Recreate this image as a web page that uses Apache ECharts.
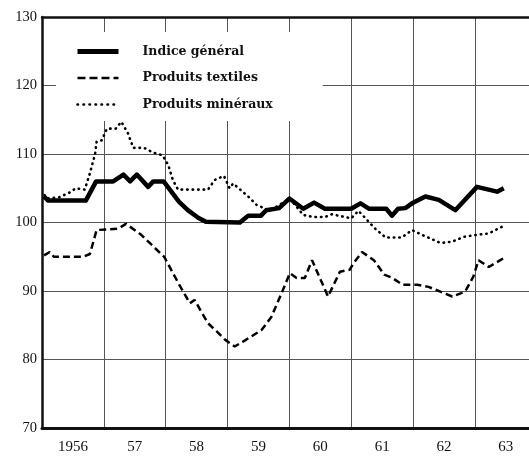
<!DOCTYPE html>
<html>
<head>
<meta charset="utf-8">
<script src="https://cdn.jsdelivr.net/npm/echarts@6/dist/echarts.min.js"></script>
<style>
  html, body { margin: 0; padding: 0; background: #fff; }
  #chart { width: 529px; height: 462px; }
</style>
</head>
<body>
<div id="chart"></div>
<script>
// Monthly positions are counted from January 1956 (0 = start of 1956).
const yearLabels = ['1956', '57', '58', '59', '60', '61', '62', '63'];

const generalMonths = [0.4, 1.2, 8.5, 10.5, 13.8, 15.8, 17.1, 18.4, 20.6, 21.6, 23.6, 26.6, 28.3, 30.3, 31.8, 38.4, 40, 42.5, 43.5, 46, 48, 50.7, 52.8, 54.9, 60, 61.8, 63.5, 66.8, 67.9, 69.1, 70.5, 71.8, 74.4, 77, 80.2, 84.4, 88.3, 89.6];
const generalValues = [103.8, 103.2, 103.2, 106, 106, 107, 106, 107, 105.2, 106, 106, 103, 101.8, 100.7, 100.1, 100, 101, 101, 101.8, 102.1, 103.5, 102, 102.9, 102, 102, 102.8, 102, 102, 101, 102, 102.1, 102.8, 103.8, 103.3, 101.8, 105.2, 104.5, 105];

const textileMonths = [0.4, 1.5, 2.3, 8, 9.3, 10.6, 14.8, 16.3, 19.1, 23.7, 26.5, 28.7, 29.6, 32.2, 33.9, 35.5, 37.4, 39.4, 42.6, 44.5, 46.5, 48.1, 49.4, 51, 52.4, 55.5, 57.8, 59.7, 60.4, 62.1, 64.4, 66.4, 68, 70, 72.8, 75, 77.3, 79.6, 82.1, 83.7, 84.7, 86.7, 89.6];
const textileValues = [95.2, 95.7, 95, 95, 95.4, 98.9, 99.1, 99.8, 98.3, 95, 91.1, 88.2, 88.7, 85.3, 84.1, 82.9, 81.9, 82.8, 84.3, 86.2, 89.7, 92.6, 91.9, 91.9, 94.5, 89.2, 92.8, 93.1, 94, 95.7, 94.5, 92.4, 91.9, 90.9, 90.9, 90.6, 89.9, 89.2, 89.9, 92.1, 94.5, 93.5, 94.8];

const mineralMonths = [0.5, 0.9, 3.4, 5.7, 6.5, 8.3, 9.3, 10.3, 10.6, 11.6, 12.6, 14.3, 15.4, 16.7, 17.7, 19.8, 21.6, 23.4, 24.5, 25.4, 26.4, 32.2, 33.5, 35.3, 36.4, 37.1, 40, 41.6, 43.9, 45.5, 48.1, 50.7, 52.6, 54.9, 56.2, 58.8, 60, 61.4, 62.8, 64.5, 66.7, 69.8, 71.8, 73.7, 75.3, 77.3, 79.6, 81.8, 84.4, 86.7, 89.6];
const mineralValues = [104, 103.5, 103.7, 104.5, 105, 104.8, 107.2, 110, 111.8, 112, 113.7, 113.7, 114.7, 113, 110.9, 110.9, 110.2, 109.8, 108.4, 106.2, 104.8, 104.8, 106.2, 106.8, 105, 105.7, 103.8, 102.6, 101.8, 102.3, 103.5, 101.1, 100.8, 100.8, 101.2, 100.8, 100.6, 101.7, 100.6, 99.2, 97.8, 97.8, 98.9, 98.2, 97.7, 97, 97.2, 97.9, 98.2, 98.4, 99.5];

const pairs = (xs, ys) => xs.map((x, i) => [x, ys[i]]);
const labelMonths = yearLabels.map((_, i) => i * 12 + 6);

const serif = '"Liberation Serif", "DejaVu Serif", serif';
const ink = '#111';
const gridColor = '#555';

const solidStyle = { color: '#000', width: 4.5, join: 'round' };
const dashedStyle = { color: '#000', width: 2.5, type: [7, 4] };
const dottedStyle = { color: '#000', width: 2.6, type: [0.5, 5], cap: 'round' };

const chart = echarts.init(document.getElementById('chart'), null, { renderer: 'canvas' });
chart.setOption({
  animation: false,
  backgroundColor: '#fff',
  grid: { left: 42, right: 0, top: 17, bottom: 34 },
  legend: {
    orient: 'vertical',
    left: 56,
    top: 32,
    z: 1,
    backgroundColor: '#fff',
    padding: [13, 50, 10, 19],
    itemGap: 13.5,
    itemWidth: 41,
    itemHeight: 14,
    itemStyle: { opacity: 0 },
    textStyle: {
      fontFamily: '"DejaVu Serif", serif',
      fontWeight: 'bold',
      fontSize: 12.5,
      color: ink,
      padding: [0, 0, 0, 19]
    },
    data: [
      { name: 'Indice général', lineStyle: { width: 5 } },
      { name: 'Produits textiles', lineStyle: { width: 2.5, type: [8, 4] } },
      { name: 'Produits minéraux', lineStyle: { width: 2.6, type: [0.5, 5.5], cap: 'round' } }
    ]
  },
  xAxis: [{
    type: 'value',
    min: 0,
    max: 94.5,
    interval: 12,
    axisLine: { show: true, onZero: false, lineStyle: { color: ink, width: 3 } },
    axisTick: { show: false },
    splitLine: { show: true, lineStyle: { color: gridColor, width: 1 } },
    axisLabel: {
      customValues: labelMonths,
      formatter: v => yearLabels[Math.round((v - 6) / 12)] || '',
      margin: 12,
      fontFamily: serif,
      fontSize: 15,
      color: ink
    }
  }, {
    type: 'value',
    position: 'top',
    min: 0,
    max: 94.5,
    interval: 12,
    axisLine: { show: true, onZero: false, lineStyle: { color: ink, width: 2.5 } },
    axisTick: { show: false },
    axisLabel: { show: false },
    splitLine: { show: false }
  }],
  yAxis: {
    type: 'value',
    min: 70,
    max: 130,
    interval: 10,
    axisLine: { show: true, lineStyle: { color: ink, width: 2.5 } },
    axisTick: { show: false },
    splitLine: { show: true, lineStyle: { color: gridColor, width: 1 } },
    axisLabel: { margin: 5, fontFamily: serif, fontSize: 14.5, color: ink }
  },
  series: [{
    name: 'Indice général',
    type: 'line',
    symbol: 'none',
    z: 3,
    data: pairs(generalMonths, generalValues),
    lineStyle: solidStyle,
    itemStyle: { color: '#000' }
  }, {
    name: 'Produits textiles',
    type: 'line',
    symbol: 'none',
    z: 2,
    data: pairs(textileMonths, textileValues),
    lineStyle: dashedStyle,
    itemStyle: { color: '#000' }
  }, {
    name: 'Produits minéraux',
    type: 'line',
    symbol: 'none',
    z: 2,
    data: pairs(mineralMonths, mineralValues),
    lineStyle: dottedStyle,
    itemStyle: { color: '#000' }
  }]
});
</script>
</body>
</html>
